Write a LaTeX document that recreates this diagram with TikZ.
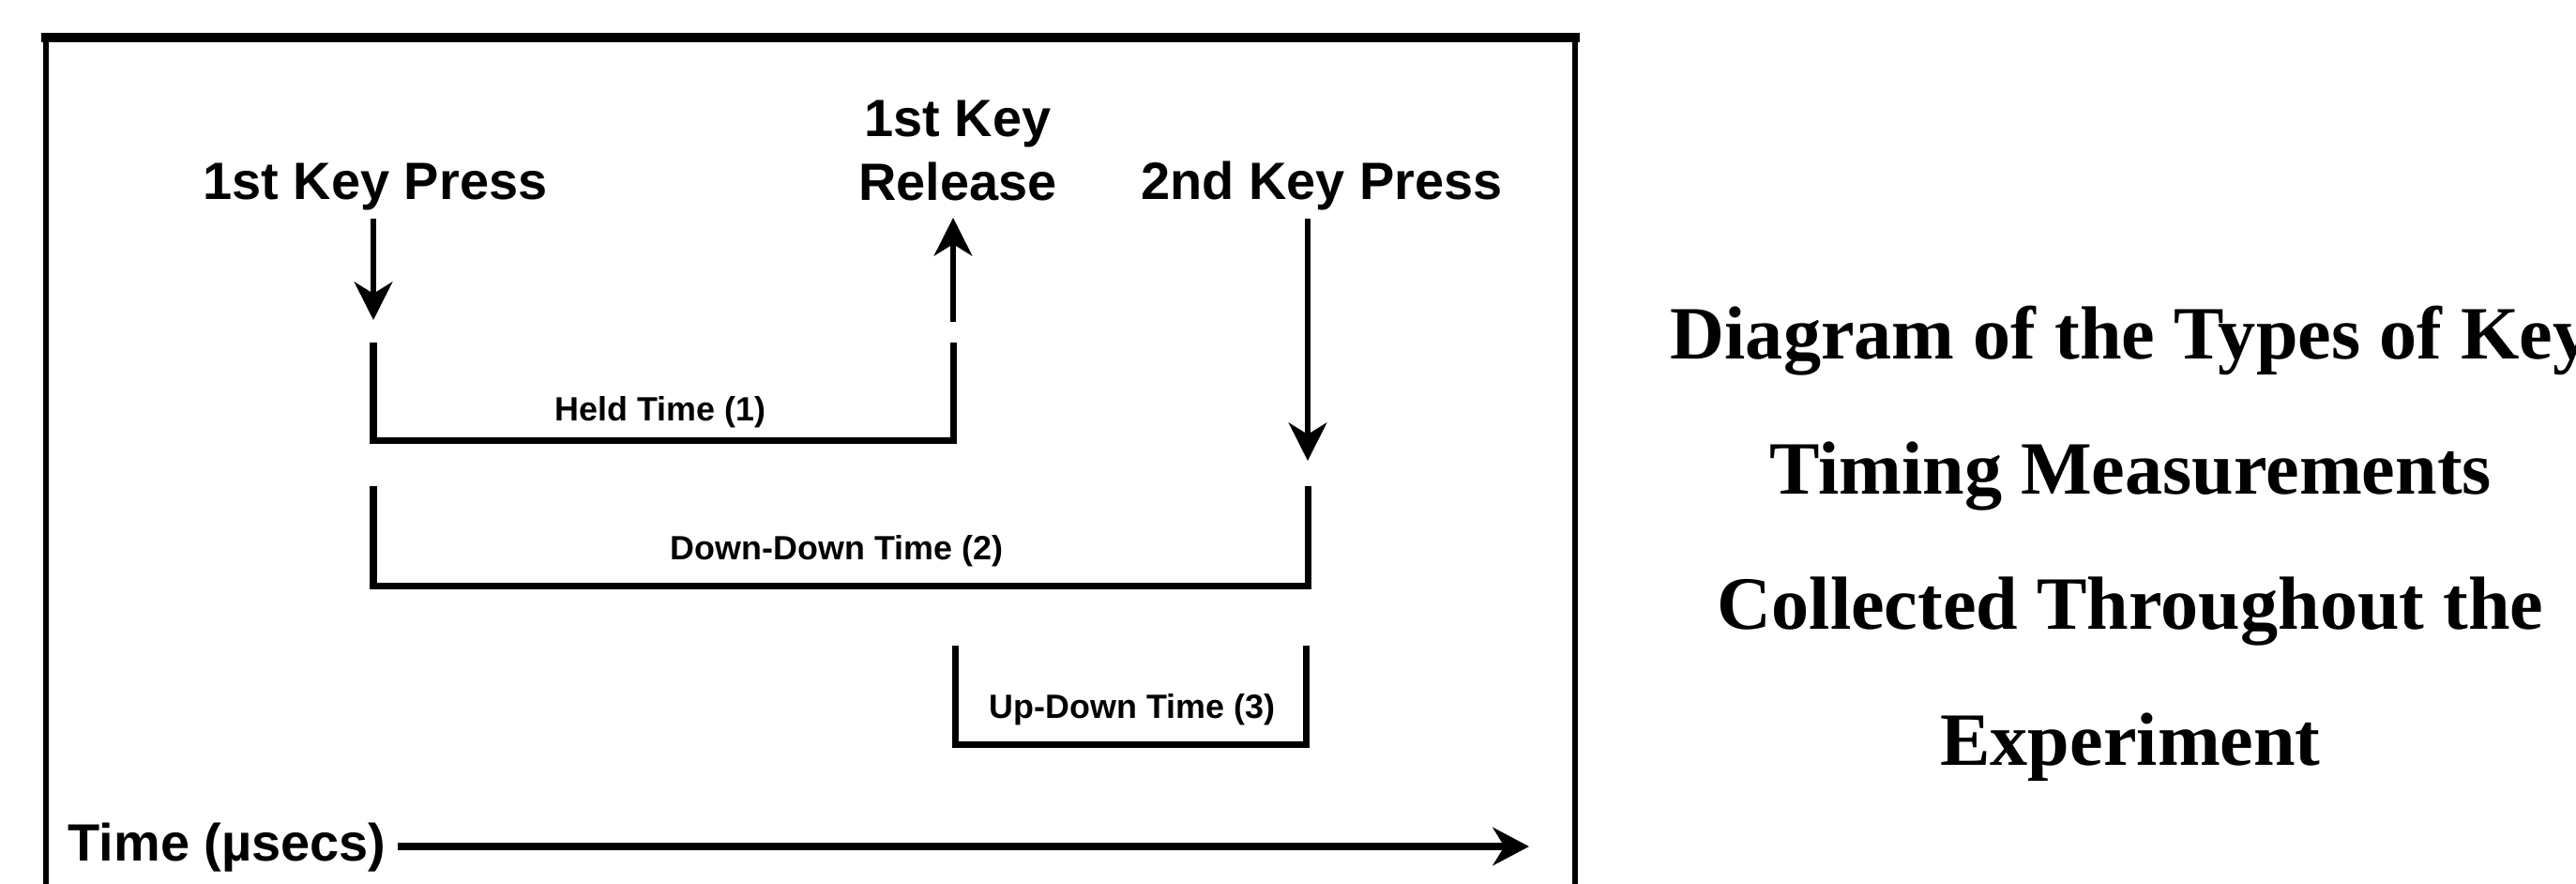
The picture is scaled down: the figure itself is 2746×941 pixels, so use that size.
\documentclass[tikz,border=0pt]{standalone}
\usepackage{fontspec}
\setmainfont{Liberation Serif}
\newfontfamily\diagfont{Liberation Sans}
\usetikzlibrary{arrows.meta}
\begin{document}
\begin{tikzpicture}[x=0.01cm,y=-0.01cm,
  frameside/.style={line width=1.5pt},
  frametop/.style={line width=2.6pt, line cap=rect},
  bracket/.style={line width=2pt},
  keyarrow/.style={line width=1.8pt,-{Stealth[length=11.5pt,width=11.5pt,inset=3.5pt]}},
  timearrow/.style={line width=2.3pt,-{Stealth[length=11pt,width=11.5pt,inset=3.5pt]}},
  head/.style={font=\diagfont\bfseries\fontsize{15.9}{19.3}\selectfont, inner sep=0pt, align=center, anchor=base},
  span/.style={font=\diagfont\bfseries\fontsize{10.2}{12}\selectfont, inner sep=0pt, anchor=base},
  caption/.style={font=\bfseries\fontsize{22.8}{41}\selectfont, inner sep=0pt, align=center, anchor=base}]
% canvas
\fill[white] (0,0) rectangle (2746,941);
\useasboundingbox (0,0) rectangle (2746,941);
\clip (0,0) rectangle (2746,941);

% outer frame (open at the bottom edge)
\draw[frameside] (49,980) |- (1679,40) -- (1679,980);
\draw[frametop] (49,40) -- (1679,40);

% event labels (multi-line nodes sit on the baseline of their last line)
\node[head] (press1) at (400,212) {1st Key Press};
\node[head] (release1) at (1021,213) {1st Key\\Release};
\node[head] (press2) at (1409,212) {2nd Key Press};

% event arrows
\coordinate (a1top) at (398,233);
\coordinate (a1tip) at (398,341);
\coordinate (r1low) at (1016,343);
\coordinate (r1tip) at (1016,232);
\coordinate (a2top) at (1394,233);
\coordinate (a2tip) at (1394,491);
\draw[keyarrow] (a1top) -- (a1tip);
\draw[keyarrow] (r1low) -- (r1tip);
\draw[keyarrow] (a2top) -- (a2tip);

% held time bracket
\coordinate (h1) at (398,365);
\coordinate (h2) at (1016,365);
\draw[bracket] (h1) -- (398,469) -- (1016,469) -- (h2);
\node[span] (held) at (704,448) {Held Time (1)};

% down-down bracket
\coordinate (dd1) at (398,518);
\coordinate (dd2) at (1394,518);
\draw[bracket] (dd1) -- (398,624) -- (1394,624) -- (dd2);
\node[span] (downdown) at (892,596) {Down-Down Time (2)};

% up-down bracket
\coordinate (ud1) at (1018,688);
\coordinate (ud2) at (1392,688);
\draw[bracket] (ud1) -- (1018,793) -- (1392,793) -- (ud2);
\node[span] (updown) at (1207,765) {Up-Down Time (3)};

% time axis
\node[head, anchor=base west] (time) at (72,917) {Time (µsecs)};
\coordinate (tend) at (1630,902);
\draw[timearrow] (time.east |- tend) ++(12,0) coordinate (tstart) -- (tend);

% caption
\node[caption] (title) at (2271,815) {Diagram of the Types of Key\\Timing Measurements\\Collected Throughout the\\Experiment};
\end{tikzpicture}
\end{document}
